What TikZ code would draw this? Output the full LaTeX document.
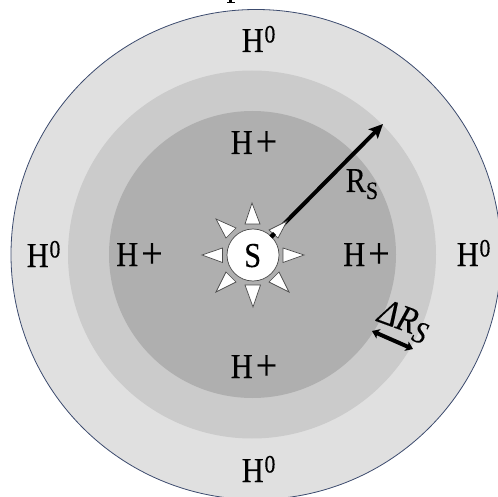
\documentclass[tikz,border=0pt]{standalone}
\usepackage{fontspec}
\setmainfont[FakeStretch=0.87,FakeBold=0.2]{Liberation Serif}
\usetikzlibrary{arrows.meta}
\definecolor{outerc}{RGB}{224,224,224}
\definecolor{midc}{RGB}{203,203,203}
\definecolor{innerc}{RGB}{175,175,175}
\definecolor{rimc}{RGB}{60,75,110}
\newcommand{\HZ}{H\kern0.8pt\raisebox{9.5pt}{\fontsize{25}{25}\selectfont 0}}
\newcommand{\HP}{H\kern3pt{\fontsize{44}{44}\selectfont\raisebox{-2pt}{+}}}
\begin{document}
\begin{tikzpicture}[x=1pt,y=-1pt,
  lbl/.style={inner sep=0pt,anchor=base west,font=\fontsize{35}{35}\selectfont},
  ray/.style={draw=black!70,fill=white,line width=0.7pt,line join=miter},
  arr/.style={line width=4pt,line cap=butt,-{Stealth[length=14pt,width=13pt,inset=3pt]}},
  dbl/.style={line width=4pt,{Stealth[length=7pt,width=10pt,inset=1.5pt]}-{Stealth[length=7pt,width=10pt,inset=1.5pt]}}]
\useasboundingbox (0,0) rectangle (498,497);
\clip (0,0) rectangle (498,497);
\fill (229.2,0) rectangle (231.6,3);
\fill (226.5,2.2) rectangle (234.5,3.2);
\filldraw[fill=outerc,draw=rimc,line width=0.8pt] (256,254.5) circle (245);
\fill[midc] (252,254.5) circle (184);
\fill[innerc] (252.5,254.5) circle (143.5);
\node[circle,draw=black!70,fill=white,line width=0.7pt,minimum size=52pt,inner sep=0pt] (sun) at (253,255) {};
\coordinate (rtip) at (383,124);
\coordinate (rstart) at (271,237);
\draw[arr] (rstart) -- (rtip);
\filldraw[ray] (252,203) -- (260,224) -- (245,224) -- cycle;
\filldraw[ray] (253,307) -- (260.5,285) -- (245,285) -- cycle;
\filldraw[ray] (202,255) -- (222.5,248) -- (222.5,262.5) -- cycle;
\filldraw[ray] (304,255) -- (283,248) -- (283,262.5) -- cycle;
\filldraw[ray] (216,219) -- (236,228) -- (226,238) -- cycle;
\filldraw[ray] (287,221) -- (269,230) -- (278,238) -- cycle;
\filldraw[ray] (216,292) -- (226,272) -- (236,282) -- cycle;
\filldraw[ray] (289,292) -- (279,272) -- (269,282) -- cycle;
\draw[line width=4pt] (rstart) -- (274.5,233.5);
\node[lbl] (st) at (241.5,52) {\HZ};
\node[lbl] (sb) at (241.5,482) {\HZ};
\node[lbl] (sl) at (26.5,267) {\HZ};
\node[lbl] (sr) at (456.5,266) {\HZ};
\node[lbl] (pt) at (230.5,154) {\HP};
\node[lbl] (pb) at (230.5,378) {\HP};
\node[lbl] (pl) at (116,266) {\HP};
\node[lbl] (pr) at (343,266) {\HP};
\node[lbl] (slabel) at (244,267) {S};
\node[lbl] (rs) at (345.5,192) {R\raisebox{-7pt}{\fontsize{25}{25}\selectfont S}};
\coordinate (da) at (372,331);
\coordinate (db) at (413,349);
\draw[dbl] (da) -- (db);
\node[lbl,anchor=base west,rotate=-20,font=\fontsize{37}{37}\selectfont] (dr) at (376,321) {\itshape ΔR\raisebox{-6pt}{\fontsize{31}{31}\selectfont S}};
\end{tikzpicture}
\end{document}
